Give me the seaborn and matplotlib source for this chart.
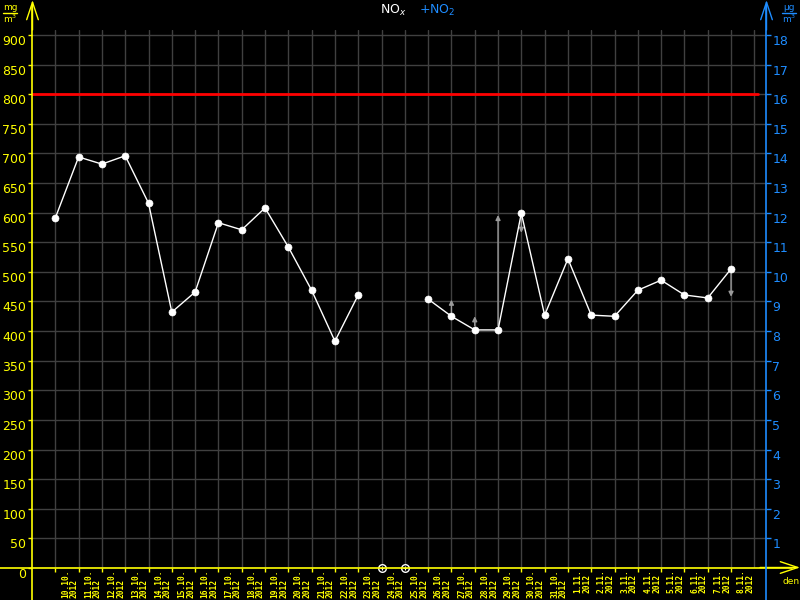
import numpy as np
import pandas as pd
import matplotlib
matplotlib.use('Agg')
import matplotlib.pyplot as plt
import matplotlib.transforms as mtransforms
import seaborn as sns

# data
dates = ['10.10.', '11.10.', '12.10.', '13.10.', '14.10.', '15.10.', '16.10.', '17.10.',
         '18.10.', '19.10.', '20.10.', '21.10.', '22.10.', '23.10.', '24.10.', '25.10.',
         '26.10.', '27.10.', '28.10.', '29.10.', '30.10.', '31.10.', '1.11.', '2.11.',
         '3.11.', '4.11.', '5.11.', '6.11.', '7.11.', '8.11.']
nox = [591, 694, 682, 696, 616, 432, 466, 583, 571, 608, 542, 469, 383, 461, np.nan, np.nan,
       454, 425, 402, 402, 599, 427, 522, 427, 425, 469, 486, 461, 456, 505]
missing_days = ['24.10.', '25.10.']
arrow_days = ['27.10.', '28.10.', '29.10.', '30.10.', '8.11.']
arrow_tips = [453, 425, 596, 566, 458]
limit = 800
left_ticks = list(range(0, 901, 50))
right_ticks = list(range(1, 19))

YEL = '#ffff00'
BLUE = '#1e8cff'
GRID = '#404040'

sns.set_theme(style='dark', rc={'figure.facecolor': 'black', 'axes.facecolor': 'black',
                                'savefig.facecolor': 'black'})
plt.rcParams['font.family'] = ['DejaVu Sans']

df = pd.DataFrame({'day': np.arange(len(dates)), 'date': dates, 'nox': nox})
df['segment'] = df['nox'].isna().cumsum()
valid = df.dropna()

fig = plt.figure(figsize=(8, 6), dpi=100)
ax = fig.add_axes([32 / 800, 32 / 600, 734 / 800, 538 / 600])
ax.set_xlim(-1, 30.5)
ax.set_ylim(0, 908.4)
for s in ax.spines.values():
    s.set_visible(False)

# grid: one line per day (plus the day after the last one), one per 50 mg/m3
ax.set_yticks(left_ticks)
ax.set_xticks(range(len(dates) + 1))
ax.grid(False)
ax.grid(True, axis='both', which='major', color=GRID, lw=1)
ax.tick_params(axis='x', length=3, width=1, color=YEL, direction='out',
               labelbottom=False, bottom=True)
ax.xaxis.get_major_ticks()[-1].tick1line.set_visible(False)
ax.tick_params(axis='y', length=3, width=1, color=YEL, direction='out', pad=1,
               labelcolor=YEL, labelsize=9, left=True)
for lab in ax.get_yticklabels():
    lab.set_va('top')

ax.axhline(limit, xmax=(758 - 32) / 734, color='#ff0000', lw=2, zorder=2)

sns.lineplot(data=valid, x='day', y='nox', units='segment', estimator=None,
             color='white', lw=1, ax=ax, zorder=4)
sns.scatterplot(data=valid, x='day', y='nox', color='white', s=26, edgecolor='white',
                ax=ax, zorder=5)
ax.set_xlabel('')
ax.set_ylabel('')

# arrows
for d, tip in zip(arrow_days, arrow_tips):
    i = dates.index(d)
    ax.annotate('', xy=(i, tip), xytext=(i, nox[i]),
                arrowprops=dict(arrowstyle='-|>', color='#9a9a9a', lw=1,
                                mutation_scale=7, shrinkA=3, shrinkB=0), zorder=3)

# missing days marked on the axis
miss_x = [dates.index(d) for d in missing_days]
ax.scatter(miss_x, [0] * len(miss_x), s=30, facecolor='black', edgecolor='white',
           lw=1, zorder=6, clip_on=False)
ax.scatter(miss_x, [0] * len(miss_x), s=12, marker='+', color='white', lw=0.8,
           zorder=7, clip_on=False)

# date labels
trans = mtransforms.blended_transform_factory(ax.transData, ax.transAxes)
for i, d in enumerate(dates):
    ax.text(i + 0.62, -0.003, d + '\n2012', transform=trans, rotation=90, va='top',
            ha='center', ma='left', fontsize=5.7, fontweight='bold', color=YEL,
            family='DejaVu Sans Mono', linespacing=0.95, clip_on=False)

# right axis
ax2 = ax.twinx()
ax2.set_ylim(0, 908.4 / 50)
ax2.set_yticks(right_ticks)
ax2.grid(False)
for s in ax2.spines.values():
    s.set_visible(False)
ax2.tick_params(axis='y', length=3.6, width=1, color=BLUE, direction='out', pad=1,
                labelcolor=BLUE, labelsize=9, right=True)
for lab in ax2.get_yticklabels():
    lab.set_va('top')

# axis lines with arrow heads
arrow = dict(arrowstyle='->, head_length=0.9, head_width=0.3', lw=1, mutation_scale=14,
             shrinkA=0, shrinkB=0)
fig.add_artist(plt.Line2D([32 / 800] * 2, [0, 0.99], color=YEL, lw=1.2))
ax.annotate('', xy=(32.5 / 800, 1.0), xytext=(32.5 / 800, 0.95), xycoords='figure fraction',
            arrowprops=dict(arrow, color=YEL))
fig.add_artist(plt.Line2D([0, 0.99], [32 / 600] * 2, color=YEL, lw=1.2))
ax.annotate('', xy=(1.0, 32.5 / 600), xytext=(0.95, 32.5 / 600), xycoords='figure fraction',
            arrowprops=dict(arrow, color=YEL))
fig.add_artist(plt.Line2D([766 / 800] * 2, [0, 0.99], color=BLUE, lw=1.2))
ax.annotate('', xy=(766.5 / 800, 1.0), xytext=(766.5 / 800, 0.95), xycoords='figure fraction',
            arrowprops=dict(arrow, color=BLUE))

# units and labels
fig.text(10 / 800, 1 - 8 / 600, 'mg', color=YEL, fontsize=6.5, ha='center', va='center')
fig.add_artist(plt.Line2D([3 / 800, 17 / 800], [1 - 13 / 600] * 2, color=YEL, lw=1))
fig.text(10 / 800, 1 - 19 / 600, 'm$^3$', color=YEL, fontsize=6.5, ha='center', va='center')
fig.text(789 / 800, 1 - 8 / 600, 'µg', color=BLUE, fontsize=6.5, ha='center', va='center')
fig.add_artist(plt.Line2D([782 / 800, 796 / 800], [1 - 13 / 600] * 2, color=BLUE, lw=1))
fig.text(789 / 800, 1 - 19 / 600, 'm$^3$', color=BLUE, fontsize=6.5, ha='center', va='center')
fig.text(791 / 800, 1 - 582 / 600, 'den', color=YEL, fontsize=6.5, ha='center', va='center')

fig.text(407 / 800, 1 - 10 / 600, 'NO$_x$', color='white', fontsize=9, ha='right', va='center')
fig.text(419 / 800, 1 - 10 / 600, '+NO$_2$', color=BLUE, fontsize=9, ha='left', va='center')

fig.savefig('out.png', dpi=100, facecolor='black')
